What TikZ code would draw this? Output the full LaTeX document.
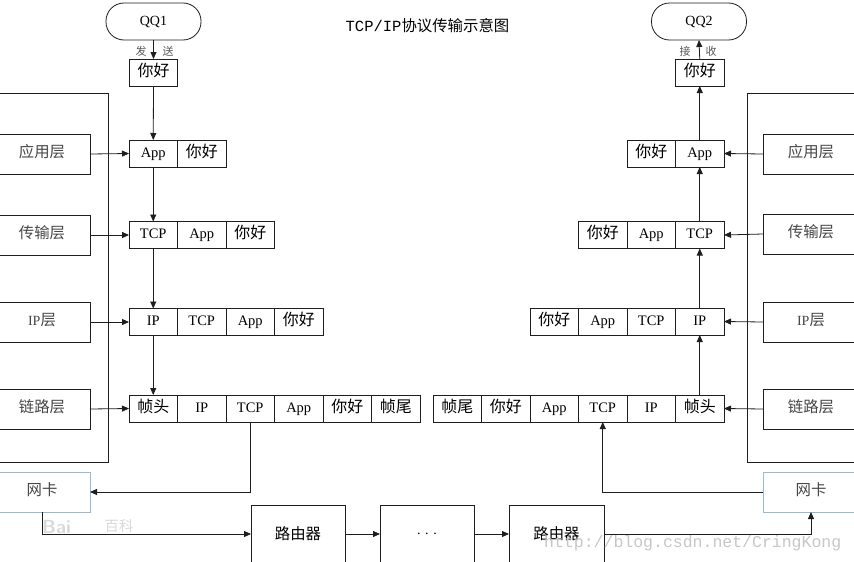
\documentclass[tikz,border=0pt]{standalone}
\usepackage{fontspec}
\setmainfont{Liberation Serif}
\newfontfamily\cjk[Scale=1.1]{Noto Sans CJK SC}
\newfontfamily\monofam{Liberation Mono}
\usetikzlibrary{arrows.meta}
\newcommand{\zh}[1]{{\cjk #1}}
\definecolor{nicblue}{RGB}{150,185,212}
\definecolor{linec}{RGB}{30,30,30}
\begin{document}
\begin{tikzpicture}[x=1pt,y=-1pt,
  cell/.style={draw=linec, line width=0.8pt, minimum width=48.5pt, minimum height=27pt, inner sep=0pt, outer sep=0pt,
    text height=10pt, text depth=3pt, font=\fontsize{14.5}{14.5}\selectfont, fill=white},
  layer/.style={draw=linec, line width=0.8pt, minimum width=96pt, minimum height=40pt, inner sep=0pt, outer sep=0pt,
    text=black!72, text height=10pt, text depth=3pt, font=\fontsize{14}{14}\selectfont, fill=white},
  nic/.style={layer, draw=nicblue},
  pill/.style={draw=linec, line width=0.8pt, rounded corners=18pt, minimum width=95pt, minimum height=37pt,
    inner sep=0pt, outer sep=0pt, font=\fontsize{14}{14}\selectfont},
  router/.style={draw=linec, line width=0.8pt, minimum width=94pt, minimum height=58pt, inner sep=0pt, outer sep=0pt,
    font=\fontsize{14}{14}\selectfont},
  frameline/.style={draw=linec, line width=0.8pt},
  arr/.style={-{Triangle[length=7pt,width=6pt]}, line width=0.8pt, draw=linec},
  lab/.style={font=\fontsize{10}{10}\selectfont, text=black!65, inner sep=0pt}
]
\fill[white] (0,0) rectangle (854,562);
\useasboundingbox (0,0) rectangle (854,562);

% title
\node (title) at (427.5,26) {{\monofam\fontsize{15.5}{15.5}\selectfont TCP/IP}{\fontsize{14}{14}\selectfont\zh{协议传输示意图}}};

% frames
\draw[frameline] (-5,93) -- (108,93) -- (108,462) -- (-5,462);
\draw[frameline] (860,93) -- (747,93) -- (747,462) -- (860,462);

% left layer boxes
\node[layer] (appL) at (42,154) {\zh{应用层}};
\node[layer] (tcpL) at (42,235) {\zh{传输层}};
\node[layer] (ipL) at (42,322) {IP\zh{层}};
\node[layer] (linkL) at (42,409) {\zh{链路层}};
\node[nic] (nicL) at (42,492) {\zh{网卡}};

% right layer boxes
\node[layer] (appR) at (811,154) {\zh{应用层}};
\node[layer] (tcpR) at (811,234) {\zh{传输层}};
\node[layer] (ipR) at (811,322) {IP\zh{层}};
\node[layer] (linkR) at (811,409) {\zh{链路层}};
\node[nic] (nicR) at (811,492) {\zh{网卡}};

% QQ1 side
\node[pill] (qq1) at (153.5,21.5) {QQ1};
\node[cell] (l0) at (153.5,72.5) {\zh{你好}};
\node[cell,anchor=west] (l1a) at (129,153.5) {App};
\node[cell,anchor=west] (l1b) at (l1a.east) {\zh{你好}};
\node[cell,anchor=west] (l2a) at (129,235) {TCP};
\node[cell,anchor=west] (l2b) at (l2a.east) {App};
\node[cell,anchor=west] (l2c) at (l2b.east) {\zh{你好}};
\node[cell,anchor=west] (l3a) at (129,322) {IP};
\node[cell,anchor=west] (l3b) at (l3a.east) {TCP};
\node[cell,anchor=west] (l3c) at (l3b.east) {App};
\node[cell,anchor=west] (l3d) at (l3c.east) {\zh{你好}};
\node[cell,anchor=west] (l4a) at (129,408.5) {\zh{帧头}};
\node[cell,anchor=west] (l4b) at (l4a.east) {IP};
\node[cell,anchor=west] (l4c) at (l4b.east) {TCP};
\node[cell,anchor=west] (l4d) at (l4c.east) {App};
\node[cell,anchor=west] (l4e) at (l4d.east) {\zh{你好}};
\node[cell,anchor=west] (l4f) at (l4e.east) {\zh{帧尾}};

% QQ2 side
\node[pill] (qq2) at (699,21.5) {QQ2};
\node[cell] (r0) at (699.75,72.5) {\zh{你好}};
\node[cell,anchor=east] (r1a) at (724,153.5) {App};
\node[cell,anchor=east] (r1b) at (r1a.west) {\zh{你好}};
\node[cell,anchor=east] (r2a) at (724,235) {TCP};
\node[cell,anchor=east] (r2b) at (r2a.west) {App};
\node[cell,anchor=east] (r2c) at (r2b.west) {\zh{你好}};
\node[cell,anchor=east] (r3a) at (724,321.5) {IP};
\node[cell,anchor=east] (r3b) at (r3a.west) {TCP};
\node[cell,anchor=east] (r3c) at (r3b.west) {App};
\node[cell,anchor=east] (r3d) at (r3c.west) {\zh{你好}};
\node[cell,anchor=east] (r4a) at (724,408.5) {\zh{帧头}};
\node[cell,anchor=east] (r4b) at (r4a.west) {IP};
\node[cell,anchor=east] (r4c) at (r4b.west) {TCP};
\node[cell,anchor=east] (r4d) at (r4c.west) {App};
\node[cell,anchor=east] (r4e) at (r4d.west) {\zh{你好}};
\node[cell,anchor=east] (r4f) at (r4e.west) {\zh{帧尾}};

% routers
\node[router] (rt1) at (298,534) {\zh{路由器}};
\node[router] (dots) at (427,534) {. . .};
\node[router, minimum width=95pt] (rt2) at (556.5,534) {\zh{路由器}};

% labels
\node[lab] (fa) at (141,51) {\zh{发}};
\node[lab] (song) at (168,51) {\zh{送}};
\node[lab] (jie) at (685,51) {\zh{接}};
\node[lab] (shou) at (711,51) {\zh{收}};

% left arrows
\draw[arr] (qq1.south) -- (l0.north);
\draw[arr] (l0.south) -- (l1a.north);
\draw[arr] (l1a.south) -- (l2a.north);
\draw[arr] (l2a.south) -- (l3a.north);
\draw[arr] (l3a.south) -- (l4a.north);
\draw[arr] (appL.east) -- (l1a.west);
\draw[arr] (tcpL.east) -- (l2a.west);
\draw[arr] (ipL.east) -- (l3a.west);
\draw[arr] (linkL.east) -- (l4a.west);

% right arrows
\draw[arr] (r4a.north) -- (r3a.south);
\draw[arr] (r3a.north) -- (r2a.south);
\draw[arr] (r2a.north) -- (r1a.south);
\draw[arr] (r1a.north) -- (r0.south);
\draw[arr] (r0.north) -- (qq2.south);
\draw[arr] (appR.west) -- (r1a.east);
\draw[arr] (tcpR.west) -- (r2a.east);
\draw[arr] (ipR.west) -- (r3a.east);
\draw[arr] (linkR.west) -- (r4a.east);

% network path
\draw[arr] (l4c.south) |- (nicL.east);
\draw[arr] (nicL.south) |- (rt1.west);
\draw[arr] (rt1.east) -- (dots.west);
\draw[arr] (dots.east) -- (rt2.west);
\draw[arr] (rt2.east) -| (nicR.south);
\draw[arr] (nicR.west) -| (r4c.south);

% watermarks
\node[anchor=west, text=black!15, font=\fontsize{19}{19}\selectfont\sffamily\bfseries, inner sep=0pt] (bai) at (42,527) {Bai};
\node[text=black!15, font=\fontsize{13}{13}\selectfont, inner sep=0pt] (baike) at (119,526) {\zh{百科}};
\node[anchor=west, text=black!22, font=\monofam\fontsize{16.5}{16.5}\selectfont, inner sep=0pt] (csdn) at (544,543) {http://blog.csdn.net/CringKong};
\end{tikzpicture}
\end{document}
